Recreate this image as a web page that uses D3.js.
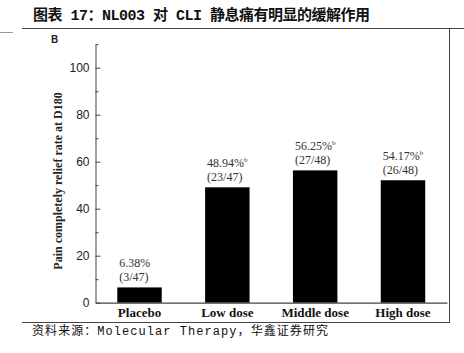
<!DOCTYPE html>
<html><head><meta charset="utf-8">
<script src="https://cdn.jsdelivr.net/npm/d3@7"></script>
<style>body{margin:0;background:#fff}svg{display:block}</style>
</head><body>
<svg id="c" width="464" height="353"></svg>
<script>
const categories = ["Placebo", "Low dose", "Middle dose", "High dose"];
const values = [6.5, 49.1, 56.3, 52.1];
const pctLabels = ["6.38%", "48.94%", "56.25%", "54.17%"];
const fracLabels = ["(3/47)", "(23/47)", "(27/48)", "(26/48)"];
const sigMarks = ["", "b", "b", "b"];
const majorTicks = [0, 20, 40, 60, 80, 100];
const minorTicks = [10, 30, 50, 70, 90, 110];
const title = "图表 17：NL003 对 CLI 静息痛有明显的缓解作用";
const source = "资料来源：Molecular Therapy，华鑫证券研究";
const yTitle = "Pain completely relief rate at D180";

const svg = d3.select("#c");

// frame lines
svg.append("line").attr("x1",22).attr("x2",464).attr("y1",28.5).attr("y2",28.5).attr("stroke","#444").attr("stroke-width",1);
svg.append("line").attr("x1",0).attr("x2",13).attr("y1",32.5).attr("y2",32.5).attr("stroke","#999").attr("stroke-width",1);
svg.append("line").attr("x1",449.5).attr("x2",449.5).attr("y1",28.5).attr("y2",322.5).attr("stroke","#444").attr("stroke-width",1);
svg.append("line").attr("x1",22).attr("x2",450).attr("y1",322.5).attr("y2",322.5).attr("stroke","#444").attr("stroke-width",1);

// title
svg.append("text").attr("x",33).attr("y",20).attr("font-family","'Liberation Mono','Noto Sans CJK SC'")
  .attr("font-weight","bold").attr("font-size",15).attr("fill","#111")
  .attr("textLength",337).attr("lengthAdjust","spacing").text(title);
// source
svg.append("text").attr("x",32).attr("y",335).attr("font-family","'Liberation Mono','Noto Sans CJK SC'")
  .attr("font-size",12).attr("fill","#111")
  .attr("textLength",296).attr("lengthAdjust","spacing").text(source);

// panel letter
svg.append("text").attr("x",51).attr("y",43).attr("font-family","'Liberation Sans',Arial,sans-serif")
  .attr("font-weight","bold").attr("font-size",10).attr("fill","#222").text("B");

const x = d3.scaleBand().domain(categories).range([95.5, 447]).paddingInner(0.494).paddingOuter(0.248);
const y = d3.scaleLinear().domain([0, 110]).range([302.7, 44.2]);

// bars
svg.append("g").selectAll("rect").data(values).join("rect")
  .attr("x",(d,i)=>x(categories[i])).attr("width",x.bandwidth())
  .attr("y",d=>y(d)).attr("height",d=>y(0)-y(d)).attr("fill","#000");

// y axis
const yAxis = svg.append("g").attr("transform","translate(95.5,0)")
  .call(d3.axisLeft(y).tickValues(majorTicks).tickSizeInner(-5).tickSizeOuter(0).tickPadding(6));
yAxis.selectAll("text").attr("font-family","'Liberation Sans',Arial,sans-serif").attr("font-size",12).attr("fill","#222");
yAxis.selectAll("line,path").attr("stroke","#444");
const yMinor = svg.append("g").attr("transform","translate(95.5,0)")
  .call(d3.axisLeft(y).tickValues(minorTicks).tickSizeInner(-3).tickSizeOuter(0).tickFormat(""));
yMinor.select("path").remove();
yMinor.selectAll("line").attr("stroke","#444");

// x axis
const xAxis = svg.append("g").attr("transform",`translate(0,${y(0)})`)
  .call(d3.axisBottom(x).tickSize(0).tickSizeOuter(0).tickPadding(5));
xAxis.select("path").attr("stroke","#444").attr("stroke-width",1.2);
xAxis.selectAll("text").attr("font-family","'Liberation Serif','Times New Roman',serif")
  .attr("font-weight","bold").attr("font-size",13).attr("fill","#111");

// y title
svg.append("text").attr("transform","translate(62,181) rotate(-90)").attr("text-anchor","middle")
  .attr("font-family","'Liberation Serif','Times New Roman',serif").attr("font-weight","bold")
  .attr("font-size",12).attr("fill","#222").text(yTitle);

// value labels
const lab = svg.append("g").attr("font-family","'Liberation Serif','Times New Roman',serif").attr("font-size",12).attr("fill","#333");
values.forEach((v,i)=>{
  const lx = x(categories[i]) + 2;
  const t = lab.append("text").attr("x",lx).attr("y",y(v)-20).text(pctLabels[i]);
  if (sigMarks[i]) t.append("tspan").attr("font-size",7).attr("dy",-5).text(sigMarks[i]);
  lab.append("text").attr("x",lx).attr("y",y(v)-6).text(fracLabels[i]);
});
</script>
</body></html>
